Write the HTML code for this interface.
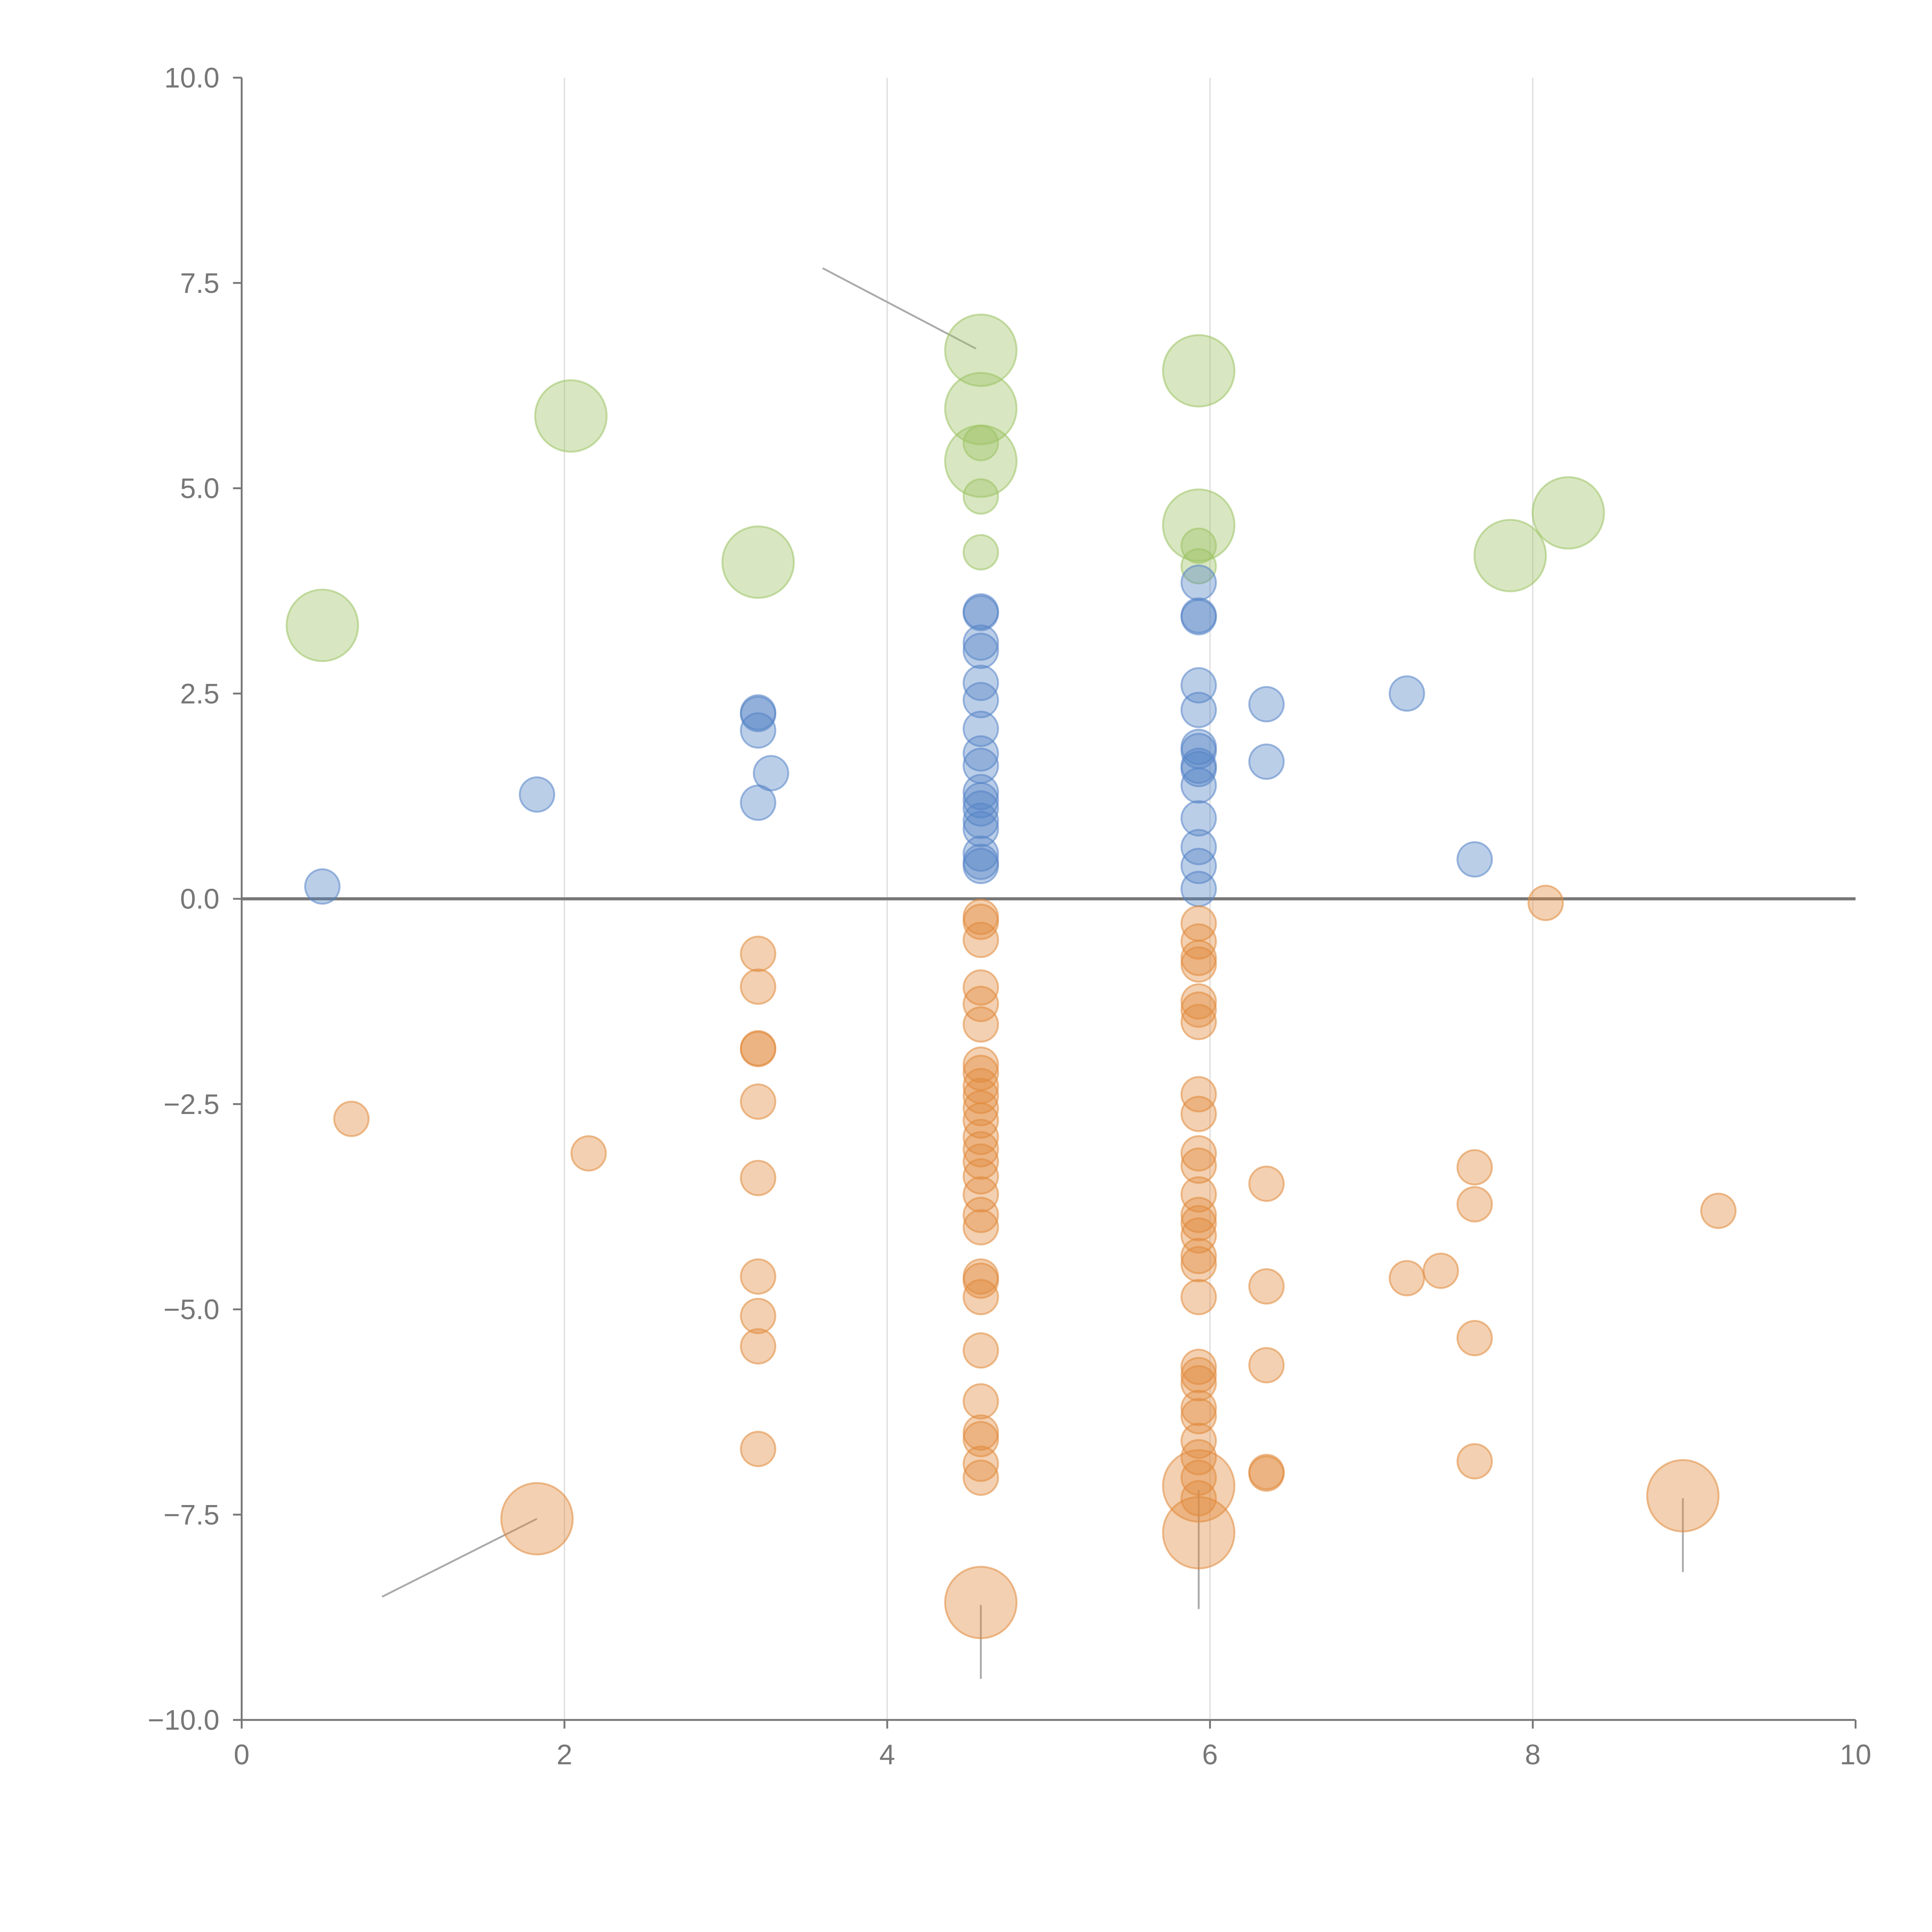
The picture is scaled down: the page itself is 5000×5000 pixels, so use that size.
<!DOCTYPE html>
<html><head><meta charset="utf-8">
<style>
html,body{margin:0;padding:0;background:#fff;}
svg{display:block;}
text{font-family:"Liberation Sans",sans-serif;fill:#777;}
</style></head>
<body>
<svg id="chart" width="5000" height="5000" viewBox="0 0 1567 1567" xmlns="http://www.w3.org/2000/svg">
<g id="grid"></g>
<g id="axes"></g>
<g id="leaders"></g>
<g id="marks"></g>
</svg>
<script>
const xTicks=[0,2,4,6,8,10];
const yTicks=[10,7.5,5,2.5,0,-2.5,-5,-7.5,-10];
const yTickLabels=["10.0","7.5","5.0","2.5","0.0","\u22122.5","\u22125.0","\u22127.5","\u221210.0"];
const blueX=[0.5,1.83,3.2,3.2,3.2,3.28,3.2,
4.58,4.58,4.58,4.58,4.58,4.58,4.58,4.58,4.58,4.58,4.58,4.58,4.58,4.58,4.58,4.58,4.58,
5.93,5.93,5.93,5.93,5.93,5.93,5.93,5.93,5.93,5.93,5.93,5.93,5.93,5.93,
6.35,6.35,7.22,7.64];
const blueY=[0.15,1.27,2.27,2.25,2.05,1.53,1.17,
3.5,3.48,3.12,3.02,2.63,2.42,2.07,1.77,1.62,1.3,1.2,1.1,0.95,0.85,0.55,0.45,0.4,
3.85,3.45,3.43,2.6,2.3,1.85,1.8,1.62,1.58,1.38,0.98,0.63,0.4,0.12,
2.37,1.67,2.5,0.48];
const orangeX=[0.68,2.15,3.2,3.2,3.2,3.2,3.2,3.2,3.2,3.2,3.2,3.2,
4.58,4.58,4.58,4.58,4.58,4.58,4.58,4.58,4.58,4.58,4.58,4.58,4.58,4.58,4.58,4.58,4.58,4.58,4.58,4.58,4.58,4.58,4.58,4.58,4.58,4.58,4.58,4.58,
5.93,5.93,5.93,5.93,5.93,5.93,5.93,5.93,5.93,5.93,5.93,5.93,5.93,5.93,5.93,5.93,5.93,5.93,5.93,5.93,5.93,5.93,5.93,5.93,5.93,5.93,5.93,
6.35,6.35,6.35,6.35,6.35,7.22,7.43,7.64,7.64,7.64,7.64,8.08,9.15];
const orangeY=[-2.68,-3.1,-0.67,-1.07,-1.82,-1.83,-2.47,-3.4,-4.6,-5.08,-5.45,-6.7,
-0.22,-0.28,-0.5,-1.08,-1.28,-1.53,-2.02,-2.12,-2.28,-2.4,-2.55,-2.7,-2.9,-3.05,-3.2,-3.38,-3.6,-3.85,-4.0,-4.6,-4.65,-4.85,-5.5,-6.12,-6.5,-6.58,-6.88,-7.05,
-0.3,-0.52,-0.72,-0.8,-1.25,-1.35,-1.5,-2.38,-2.62,-3.1,-3.25,-3.6,-3.85,-3.95,-4.1,-4.35,-4.45,-4.85,-5.7,-5.8,-5.9,-6.2,-6.3,-6.6,-6.8,-7.05,-7.3,
-3.47,-4.72,-5.68,-6.98,-7.0,-4.62,-4.53,-3.27,-3.72,-5.35,-6.85,-0.05,-3.8];
const orangeBigX=[1.83,4.58,5.93,5.93,8.93];
const orangeBigY=[-7.55,-8.57,-7.15,-7.72,-7.27];
const greenBigX=[0.5,2.04,3.2,4.58,4.58,4.58,5.93,5.93,7.86,8.22];
const greenBigY=[3.33,5.88,4.1,6.68,5.97,5.33,6.43,4.55,4.18,4.7];
const greenSmallX=[4.58,4.58,4.58,5.93,5.93];
const greenSmallY=[5.55,4.9,4.22,4.3,4.05];
const leaderX1=[3.6,0.87,4.58,5.93,8.93];
const leaderY1=[7.68,-8.5,-9.5,-8.65,-8.2];
const leaderX2=[4.55,1.83,4.58,5.93,8.93];
const leaderY2=[6.7,-7.55,-8.6,-7.2,-7.3];

const NS="http://www.w3.org/2000/svg";
const X0=196,X1=1505,Y0=1395,Y1=63;
const sx=v=>X0+(v-0)/(10-0)*(X1-X0);
const sy=v=>Y0-(v+10)/20*(Y0-Y1);
function mk(tag,attrs,parent){const e=document.createElementNS(NS,tag);for(const k in attrs)e.setAttribute(k,attrs[k]);parent.appendChild(e);return e;}
const grid=document.getElementById('grid'),axes=document.getElementById('axes'),marks=document.getElementById('marks'),leaders=document.getElementById('leaders');

xTicks.forEach(t=>{
  if(t>0&&t<10){const l=mk('line',{x1:sx(t),x2:sx(t),y1:Y1,y2:Y0,stroke:'#ddd','stroke-width':1},grid);
  
  }
  const tk=mk('line',{x1:sx(t),x2:sx(t),y1:Y0,y2:Y0+7,stroke:'#777','stroke-width':1.5},axes);
  
  
  const tx=mk('text',{x:sx(t),y:Y0+36,'font-size':23,'text-anchor':'middle'},axes);
  tx.textContent=String(t);
  
  
});
yTicks.forEach((t,i)=>{
  const tk=mk('line',{x1:X0-7,x2:X0,y1:sy(t),y2:sy(t),stroke:'#777','stroke-width':1.5},axes);
  
  
  const tx=mk('text',{x:X0-18,y:sy(t)+8,'font-size':23,'text-anchor':'end'},axes);
  tx.textContent=yTickLabels[i];
  
  
});
let a=mk('line',{x1:X0,x2:X0,y1:Y1,y2:Y0,stroke:'#777','stroke-width':1.5},axes);


a=mk('line',{x1:X0,x2:X1,y1:Y0,y2:Y0,stroke:'#777','stroke-width':1.5},axes);


a=mk('line',{x1:X0,x2:X1,y1:sy(0),y2:sy(0),stroke:'#777','stroke-width':2.5},axes);



leaderX1.forEach((v,i)=>{
  const l=mk('line',{x1:sx(v),y1:sy(leaderY1[i]),x2:sx(leaderX2[i]),y2:sy(leaderY2[i]),stroke:'#aaa','stroke-width':1.5},leaders);
  
  
});

function series(xs,ys,r,fill,stroke,name){
  xs.forEach((v,i)=>{
    const c=mk('circle',{cx:sx(v),cy:sy(ys[i]),r:r,fill:fill,'fill-opacity':0.4,stroke:stroke,'stroke-opacity':0.55,'stroke-width':1.5},marks);
    
    
  });
}
series(greenBigX,greenBigY,29,'#9dc265','#9dc265','green-bubble-large');
series(greenSmallX,greenSmallY,14,'#9dc265','#9dc265','green-bubble');
series(blueX,blueY,14,'#5584c6','#5584c6','blue-bubble');
series(orangeX,orangeY,14,'#e08a3c','#e08a3c','orange-bubble');
series(orangeBigX,orangeBigY,29,'#e08a3c','#e08a3c','orange-bubble-large');
</script>
</body></html>
